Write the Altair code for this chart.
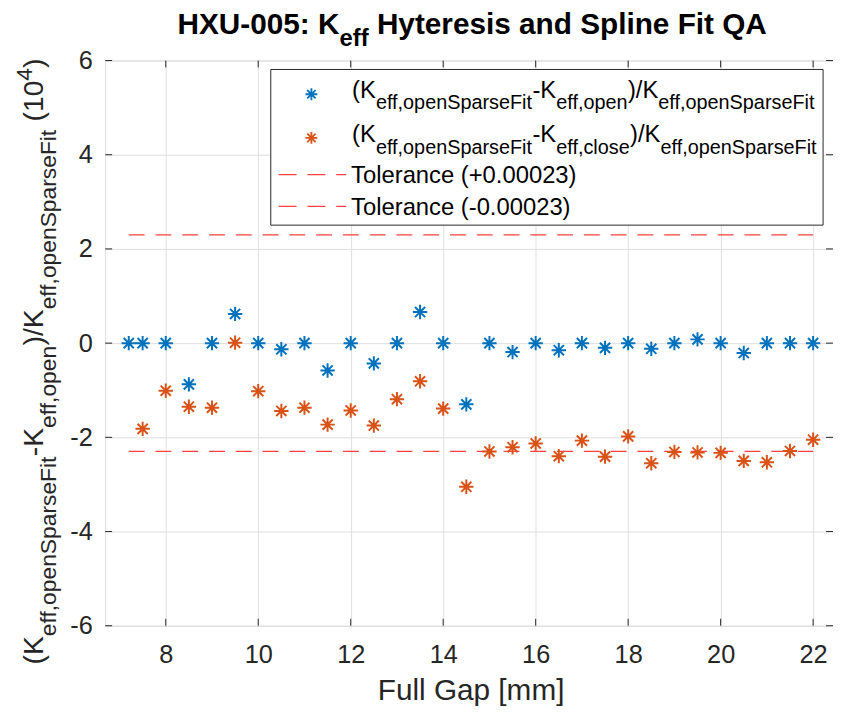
import altair as alt
import pandas as pd

# ---------------- data (values in units of 1e-4) ----------------
gap_open = [7.2, 7.5, 8, 8.5, 9, 9.5, 10, 10.5, 11, 11.5, 12, 12.5, 13, 13.5, 14, 14.5,
            15, 15.5, 16, 16.5, 17, 17.5, 18, 18.5, 19, 19.5, 20, 20.5, 21, 21.5, 22]
rel_open = [0, 0, 0, -0.875, 0, 0.62, 0, -0.13, 0, -0.58, 0, -0.43, 0, 0.66, 0, -1.30,
            0, -0.19, 0, -0.15, 0, -0.10, 0, -0.12, 0, 0.08, 0, -0.21, 0, 0, 0]
gap_close = [7.5, 8, 8.5, 9, 9.5, 10, 10.5, 11, 11.5, 12, 12.5, 13, 13.5, 14, 14.5,
             15, 15.5, 16, 16.5, 17, 17.5, 18, 18.5, 19, 19.5, 20, 20.5, 21, 21.5, 22]
rel_close = [-1.82, -1.01, -1.35, -1.37, 0.01, -1.02, -1.44, -1.37, -1.73, -1.43, -1.75,
             -1.19, -0.81, -1.39, -3.05, -2.30, -2.21, -2.13, -2.40, -2.07, -2.41, -1.98,
             -2.55, -2.31, -2.32, -2.33, -2.50, -2.53, -2.29, -2.05]
tol_gap = [7.2, 22]
tol_value = 2.3
x_ticks = [8, 10, 12, 14, 16, 18, 20, 22]
y_ticks = [-6, -4, -2, 0, 2, 4, 6]
x_domain = [6.69, 22.43]
y_domain = [-6, 6]

# ---------------- style ----------------
FONT = "Liberation Sans"
INK = "#262626"
BLUE = "#0072BD"
ORANGE = "#D95319"
RED = "#ff4040"
GRID = "#dfdfdf"
W, H = 734, 570
OX, OY = 106, 58  # page position of plot origin
AST = "M-1,0L1,0M0,-1L0,1M-0.7071,-0.7071L0.7071,0.7071M-0.7071,0.7071L0.7071,-0.7071"

REG = {' ': 278, '(': 333, ')': 333, '+': 584, '-': 333, '.': 278, '/': 278, ',': 278,
       '[': 278, ']': 278, ':': 278, 'A': 667, 'F': 611, 'G': 778, 'K': 667, 'S': 667,
       'T': 611, 'a': 556, 'c': 500, 'e': 556, 'f': 278, 'i': 222, 'l': 222, 'm': 833,
       'n': 556, 'o': 556, 'p': 556, 'r': 333, 's': 500, 't': 278, 'u': 556}
BOLD = {' ': 278, '-': 333, ':': 333, 'A': 722, 'F': 611, 'H': 722, 'K': 722, 'Q': 778,
        'S': 667, 'U': 722, 'X': 667, 'a': 556, 'd': 611, 'e': 556, 'f': 333, 'i': 278,
        'l': 278, 'n': 611, 'p': 611, 'r': 389, 's': 556, 't': 333, 'y': 556}


def twidth(s, fs, bold=False):
    tab = BOLD if bold else REG
    return sum(tab.get(c, 556) for c in s) / 1000.0 * fs


one = pd.DataFrame({"k": [0]})


def piece(text, px, py, fs, bold=False, angle=0, color=INK, align="left"):
    return alt.Chart(one).mark_text(
        text=text, align=align, baseline="alphabetic", fontSize=fs, font=FONT,
        fontWeight="bold" if bold else "normal", angle=angle, color=color
    ).encode(x=alt.value(px - OX), y=alt.value(py - OY))


def chain(parts, px, py, bold=False, angle=0, color=INK):
    out = []
    pos = 0.0
    for text, fs, off in parts:
        stripped = text.lstrip(" ")
        pos += twidth(" " * (len(text) - len(stripped)), fs, bold)
        if angle == 0:
            out.append(piece(stripped, px + pos, py + off, fs, bold, 0, color))
        else:
            out.append(piece(stripped, px + off, py - pos, fs, bold, angle, color))
        pos += twidth(stripped, fs, bold)
    return out


LBL = "datum.value < 0 ? '-' + abs(datum.value) : '' + datum.value"
xs = alt.Scale(domain=x_domain, nice=False, zero=False)
ys = alt.Scale(domain=y_domain, nice=False, zero=False)
x_axis = alt.Axis(values=x_ticks, title=None, grid=True, gridColor=GRID, ticks=False,
                  domain=False, labelFont=FONT, labelFontSize=25.5, labelColor=INK,
                  labelPadding=17, labelFlush=False, labelOverlap=False, labelExpr=LBL)
y_axis = alt.Axis(values=y_ticks, title=None, grid=True, gridColor=GRID, ticks=False,
                  domain=False, labelFont=FONT, labelFontSize=25.5, labelColor=INK,
                  labelPadding=13, labelFlush=False, labelOverlap=False, labelExpr=LBL)

df_open = pd.DataFrame({"gap": gap_open, "val": rel_open})
df_close = pd.DataFrame({"gap": gap_close, "val": rel_close})
df_tol = pd.DataFrame({
    "gap": tol_gap + tol_gap,
    "val": [tol_value] * len(tol_gap) + [-tol_value] * len(tol_gap),
    "s": ["hi"] * len(tol_gap) + ["lo"] * len(tol_gap),
})

X = alt.X("gap:Q", scale=xs, axis=x_axis)
Y = alt.Y("val:Q", scale=ys, axis=y_axis)

tol = alt.Chart(df_tol).mark_line(color=RED, strokeWidth=1.3, strokeDash=[16, 11]).encode(
    x=X, y=Y, detail="s:N")
p_open = alt.Chart(df_open).mark_point(shape=AST, size=210, filled=False, strokeWidth=2,
                                       color=BLUE, opacity=1).encode(x=X, y=Y)
p_close = alt.Chart(df_close).mark_point(shape=AST, size=210, filled=False, strokeWidth=2,
                                         color=ORANGE, opacity=1).encode(x=X, y=Y)

# inward tick marks
dxt = pd.DataFrame({"gap": x_ticks})
dyt = pd.DataFrame({"val": y_ticks})
tick_b = alt.Chart(dxt).mark_rule(color=INK).encode(x=X, y=alt.value(H), y2=alt.value(H - 7))
tick_t = alt.Chart(dxt).mark_rule(color=INK).encode(x=X, y=alt.value(0), y2=alt.value(7))
tick_l = alt.Chart(dyt).mark_rule(color=INK).encode(y=Y, x=alt.value(0), x2=alt.value(7))
tick_r = alt.Chart(dyt).mark_rule(color=INK).encode(y=Y, x=alt.value(W), x2=alt.value(W - 7))

# legend
leg_box = alt.Chart(one).mark_rect(fill="white", stroke=INK, strokeWidth=1).encode(
    x=alt.value(273 - OX), x2=alt.value(830 - OX), y=alt.value(67 - OY), y2=alt.value(224 - OY))
leg_s1 = alt.Chart(one).mark_point(shape=AST, size=144, filled=False, strokeWidth=1.8,
                                   color=BLUE, opacity=1).encode(
    x=alt.value(314 - OX), y=alt.value(92 - OY))
leg_s2 = alt.Chart(one).mark_point(shape=AST, size=144, filled=False, strokeWidth=1.8,
                                   color=ORANGE, opacity=1).encode(
    x=alt.value(314 - OX), y=alt.value(136 - OY))
leg_l3 = alt.Chart(one).mark_rule(color=RED, strokeWidth=1.3, strokeDash=[18, 11]).encode(
    x=alt.value(281 - OX), x2=alt.value(349 - OX), y=alt.value(173 - OY))
leg_l4 = alt.Chart(one).mark_rule(color=RED, strokeWidth=1.3, strokeDash=[18, 11]).encode(
    x=alt.value(281 - OX), x2=alt.value(349 - OX), y=alt.value(205 - OY))

LM, LS, LO = 24, 20, 11.5
leg_t1 = chain([("(K", LM, 0), ("eff,openSparseFit", LS, LO), ("-K", LM, 0),
                ("eff,open", LS, LO), (")/K", LM, 0), ("eff,openSparseFit", LS, LO)],
               355, 95.5, color="black")
leg_t2 = chain([("(K", LM, 0), ("eff,openSparseFit", LS, LO), ("-K", LM, 0),
                ("eff,close", LS, LO), (")/K", LM, 0), ("eff,openSparseFit", LS, LO)],
               355, 140.5, color="black")
leg_t3 = [piece("Tolerance (+0.00023)", 354, 181.7, LM, color="black")]
leg_t4 = [piece("Tolerance (-0.00023)", 354, 214, LM, color="black")]

# title
title = chain([("HXU-005: K", 30, 0), ("eff", 24, 12), (" Hyteresis and Spline Fit QA", 30, 0)],
              179, 31, bold=True, color="black")

# y label (rotated)
YM, YS = 28.5, 23
ylab = chain([("(K", YM, 0), ("eff,openSparseFit", YS, 13.5), ("-K", YM, 0),
              ("eff,open", YS, 13.5), (")/K", YM, 0), ("eff,openSparseFit", YS, 13.5),
              (" (10", YM, 0), ("4", YS, -11), (")", YM, 0)],
             43, 667, angle=270)

xlab = [piece("Full Gap [mm]", 475, 703, 30, align="center")]

layers = [tol, p_open, p_close, tick_b, tick_t, tick_l, tick_r,
          leg_box, leg_s1, leg_s2, leg_l3, leg_l4] + leg_t1 + leg_t2 + leg_t3 + leg_t4 \
    + title + ylab + xlab

chart = alt.layer(*layers).properties(
    width=W, height=H,
    autosize=alt.AutoSizeParams(type="none"),
    padding={"left": 98, "top": 50, "right": 0, "bottom": 82},
).configure_view(stroke=INK, strokeWidth=1).configure(background="white")

chart.save("out.html", embed_options={"renderer": "svg", "actions": False})
